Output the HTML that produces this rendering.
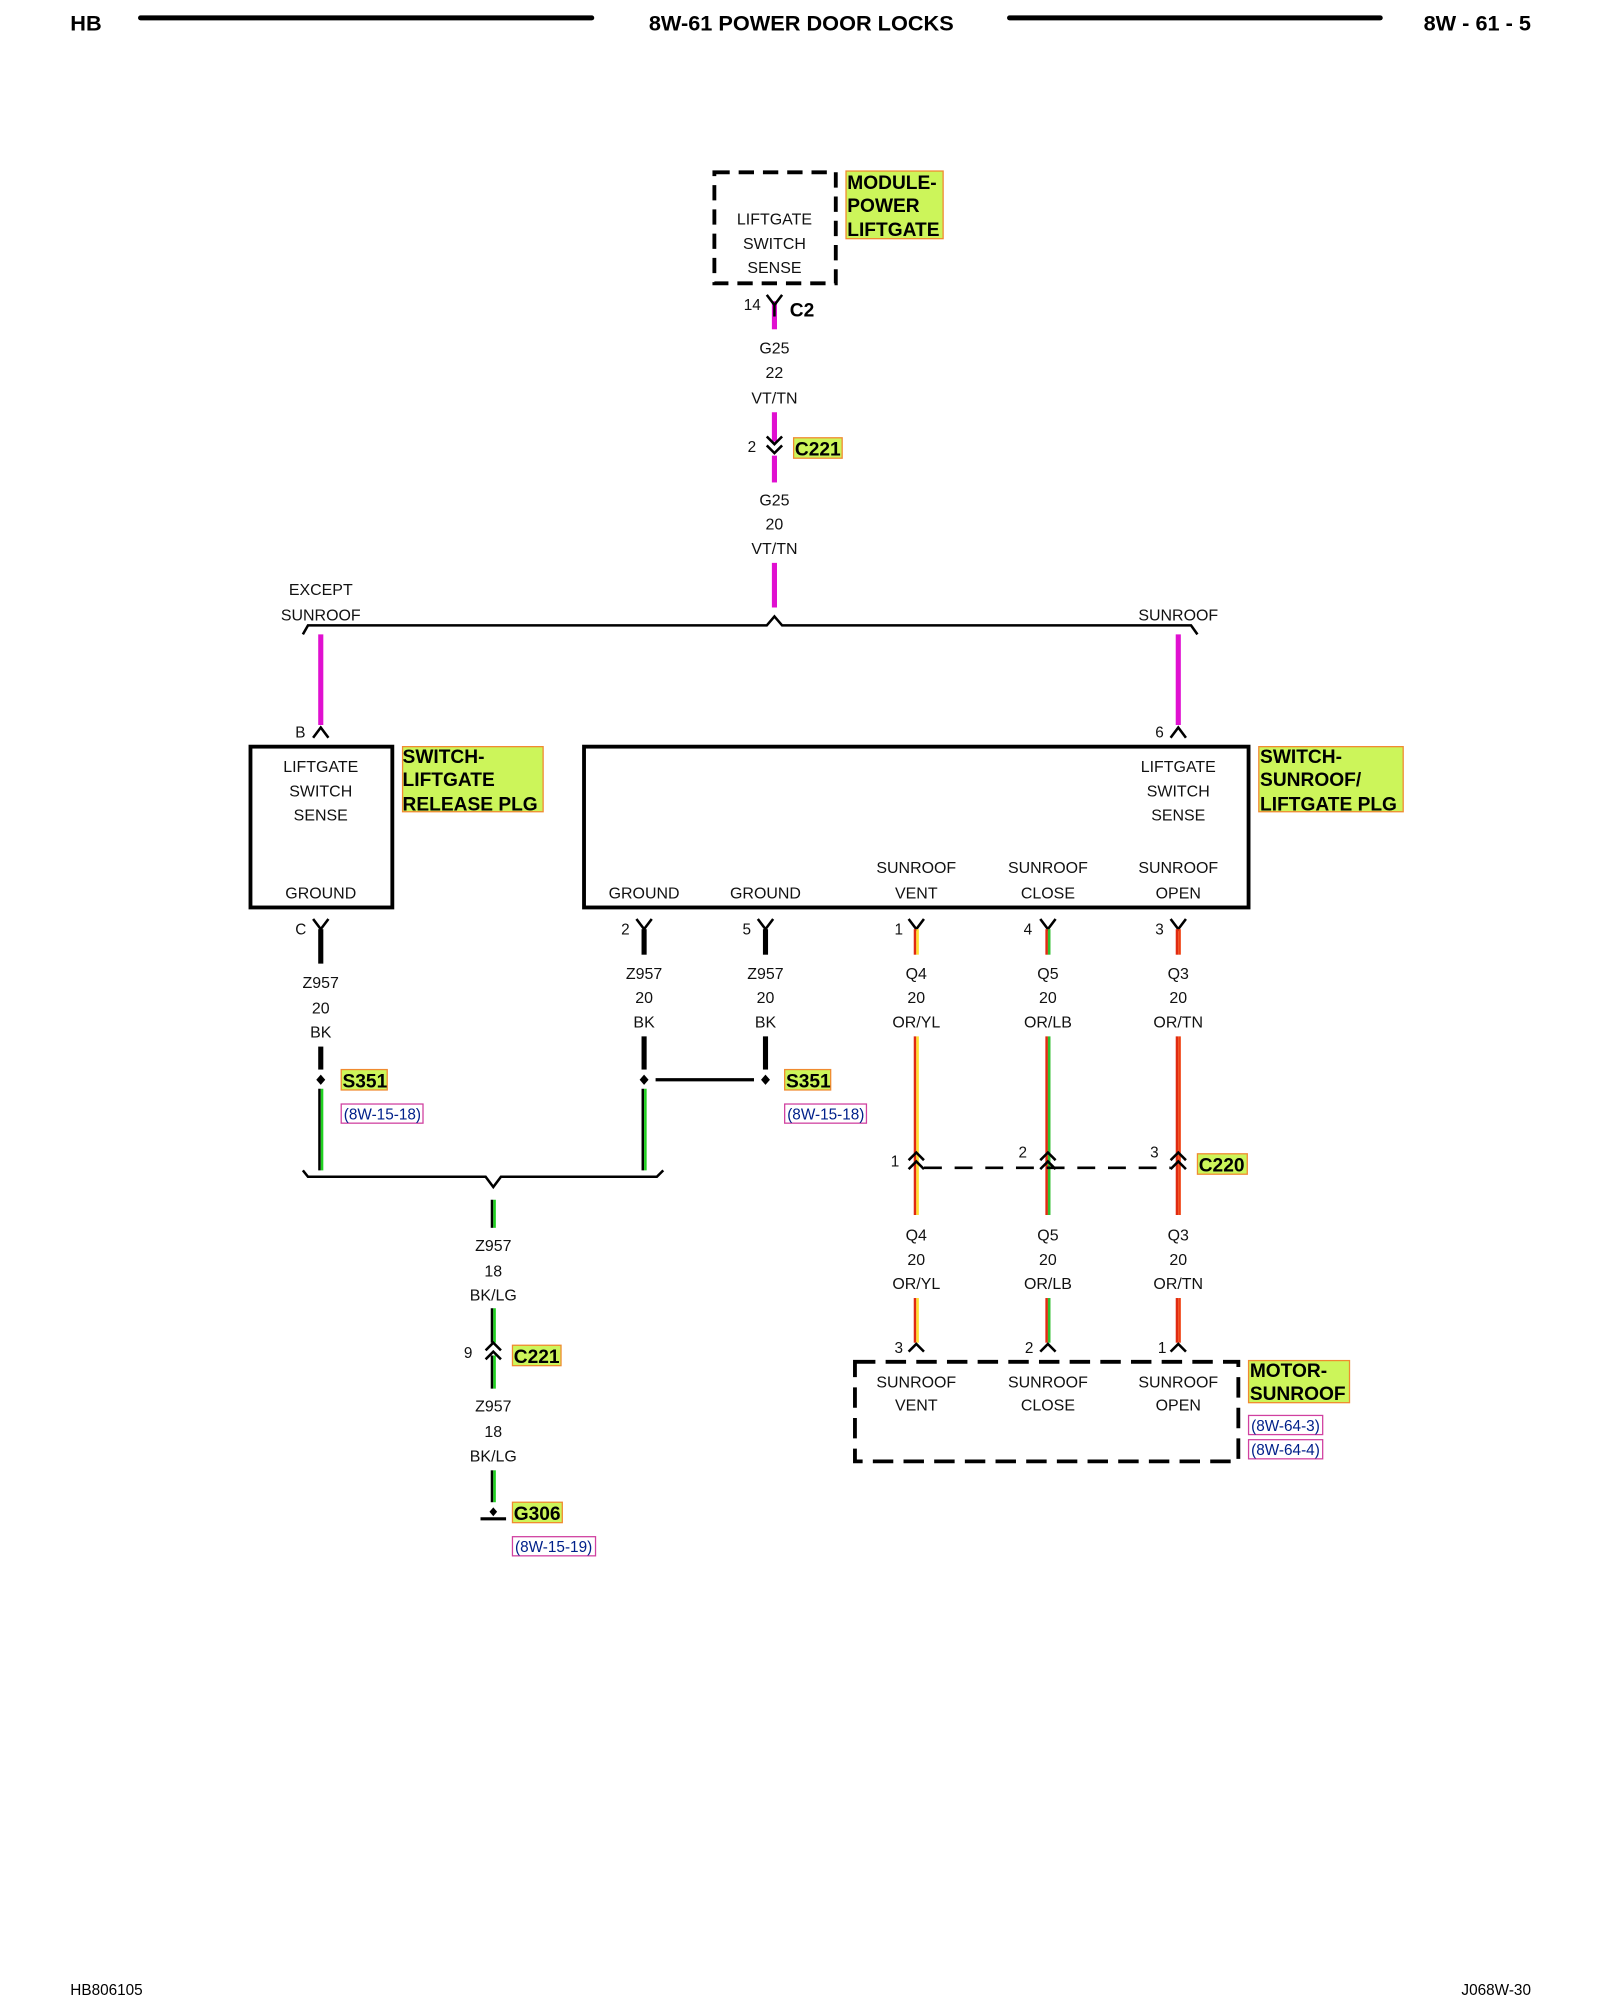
<!DOCTYPE html>
<html><head><meta charset="utf-8"><style>
html,body{margin:0;padding:0;background:#fff;}
svg{display:block}
text{font-family:"Liberation Sans",sans-serif;}
.t{font-size:12.5px;fill:#111;text-anchor:middle}
.n{font-size:12px;fill:#111}
.lb{font-size:15px;font-weight:bold;fill:#000}
.rf{font-size:12px;fill:#00208a}
</style></head><body>
<svg width="1600" height="2000" viewBox="0 0 1252 1567" preserveAspectRatio="none" xmlns="http://www.w3.org/2000/svg">
<rect width="1252" height="1567" fill="#fff"/>
<!-- header -->
<text x="55" y="24" style="font-size:17px;font-weight:bold">HB</text>
<line x1="110" y1="14" x2="463" y2="14" stroke="#000" stroke-width="4" stroke-linecap="round"/>
<text x="627" y="24" style="font-size:17px;font-weight:bold;text-anchor:middle">8W-61 POWER DOOR LOCKS</text>
<line x1="790" y1="14" x2="1080" y2="14" stroke="#000" stroke-width="4" stroke-linecap="round"/>
<text x="1198" y="24" style="font-size:17px;font-weight:bold;text-anchor:end">8W - 61 - 5</text>

<!-- module power liftgate -->
<rect x="559" y="135" width="95" height="87" fill="none" stroke="#000" stroke-width="3" stroke-dasharray="12,7"/>
<text class="t" x="606" y="176">LIFTGATE</text>
<text class="t" x="606" y="195">SWITCH</text>
<text class="t" x="606" y="214">SENSE</text>
<rect x="662" y="134" width="76" height="53" fill="#ccf55a" stroke="#f08a30" stroke-width="1"/>
<text class="lb" x="663" y="148">MODULE-</text>
<text class="lb" x="663" y="166">POWER</text>
<text class="lb" x="663" y="185">LIFTGATE</text>

<g stroke="#e010d0" stroke-width="4">
<line x1="606" y1="236" x2="606" y2="258"/>
<line x1="606" y1="323" x2="606" y2="346"/>
<line x1="606" y1="357" x2="606" y2="378"/>
<line x1="606" y1="441" x2="606" y2="476"/>
<line x1="251" y1="497" x2="251" y2="568"/>
<line x1="922" y1="497" x2="922" y2="568"/>
</g>
<!-- C2 -->
<polyline points="600,231 606,239 612,231" fill="none" stroke="#000" stroke-width="2"/>
<line x1="606" y1="239" x2="606" y2="248" stroke="#000" stroke-width="2"/>
<text class="n" x="582" y="243">14</text>
<text x="618" y="248" style="font-size:15px;font-weight:bold">C2</text>
<text class="t" x="606" y="277">G25</text>
<text class="t" x="606" y="296">22</text>
<text class="t" x="606" y="316">VT/TN</text>
<!-- C221 top -->
<polyline points="600,342 606,348 612,342" fill="none" stroke="#000" stroke-width="2"/>
<polyline points="600,349 606,355 612,349" fill="none" stroke="#000" stroke-width="2"/>
<text class="n" x="585" y="354">2</text>
<rect x="621" y="343" width="38" height="16" fill="#ccf55a" stroke="#f08a30"/>
<text class="lb" x="622" y="357">C221</text>
<text class="t" x="606" y="396">G25</text>
<text class="t" x="606" y="415">20</text>
<text class="t" x="606" y="434">VT/TN</text>
<!-- bus -->
<path d="M237,497 L241,490 L600,490 L606,483 L612,490 L932,490 L937,497" fill="none" stroke="#000" stroke-width="2"/>
<text class="t" x="251" y="466">EXCEPT</text>
<text class="t" x="251" y="486">SUNROOF</text>
<text class="t" x="922" y="486">SUNROOF</text>
<!-- arrowheads into boxes -->
<polyline points="245,578 251,570 257,578" fill="none" stroke="#000" stroke-width="2"/>
<text class="n" x="231" y="578">B</text>
<polyline points="916,578 922,570 928,578" fill="none" stroke="#000" stroke-width="2"/>
<text class="n" x="904" y="578">6</text>

<!-- left box -->
<rect x="196" y="585" width="111" height="126" fill="none" stroke="#000" stroke-width="3"/>
<text class="t" x="251" y="605">LIFTGATE</text>
<text class="t" x="251" y="624">SWITCH</text>
<text class="t" x="251" y="643">SENSE</text>
<text class="t" x="251" y="704">GROUND</text>
<rect x="315" y="585" width="110" height="51" fill="#ccf55a" stroke="#f08a30"/>
<text class="lb" x="315" y="598">SWITCH-</text>
<text class="lb" x="315" y="616">LIFTGATE</text>
<text class="lb" x="315" y="635">RELEASE PLG</text>

<!-- big box -->
<rect x="457" y="585" width="520" height="126" fill="none" stroke="#000" stroke-width="3"/>
<text class="t" x="922" y="605">LIFTGATE</text>
<text class="t" x="922" y="624">SWITCH</text>
<text class="t" x="922" y="643">SENSE</text>
<text class="t" x="504" y="704">GROUND</text>
<text class="t" x="599" y="704">GROUND</text>
<text class="t" x="717" y="684">SUNROOF</text><text class="t" x="717" y="704">VENT</text>
<text class="t" x="820" y="684">SUNROOF</text><text class="t" x="820" y="704">CLOSE</text>
<text class="t" x="922" y="684">SUNROOF</text><text class="t" x="922" y="704">OPEN</text>
<rect x="985" y="585" width="113" height="51" fill="#ccf55a" stroke="#f08a30"/>
<text class="lb" x="986" y="598">SWITCH-</text>
<text class="lb" x="986" y="616">SUNROOF/</text>
<text class="lb" x="986" y="635">LIFTGATE PLG</text>

<!-- Y connectors below boxes -->
<g fill="none" stroke="#000" stroke-width="2">
<polyline points="245,720 251,728 257,720"/>
<polyline points="498,720 504,728 510,720"/>
<polyline points="593,720 599,728 605,720"/>
<polyline points="711,720 717,728 723,720"/>
<polyline points="814,720 820,728 826,720"/>
<polyline points="916,720 922,728 928,720"/>
</g>
<g stroke="#000" stroke-width="4">
<line x1="251" y1="728" x2="251" y2="755"/>
<line x1="504" y1="728" x2="504" y2="748"/>
<line x1="599" y1="728" x2="599" y2="748"/>
</g>
<text class="n" x="231" y="732">C</text>
<text class="n" x="486" y="732">2</text>
<text class="n" x="581" y="732">5</text>
<text class="n" x="700" y="732">1</text>
<text class="n" x="801" y="732">4</text>
<text class="n" x="904" y="732">3</text>
<!-- colored wire stubs top -->
<g stroke-width="2">
<line x1="716" y1="728" x2="716" y2="748" stroke="#e02a10"/><line x1="718" y1="728" x2="718" y2="748" stroke="#ffe030"/>
<line x1="819" y1="728" x2="819" y2="748" stroke="#e02a10"/><line x1="821" y1="728" x2="821" y2="748" stroke="#30c030"/>
<line x1="921" y1="728" x2="921" y2="748" stroke="#e02a10"/><line x1="923" y1="728" x2="923" y2="748" stroke="#f04010"/>
</g>
<text class="t" x="251" y="774">Z957</text><text class="t" x="251" y="794">20</text><text class="t" x="251" y="813">BK</text>
<text class="t" x="504" y="767">Z957</text><text class="t" x="504" y="786">20</text><text class="t" x="504" y="805">BK</text>
<text class="t" x="599" y="767">Z957</text><text class="t" x="599" y="786">20</text><text class="t" x="599" y="805">BK</text>
<text class="t" x="717" y="767">Q4</text><text class="t" x="717" y="786">20</text><text class="t" x="717" y="805">OR/YL</text>
<text class="t" x="820" y="767">Q5</text><text class="t" x="820" y="786">20</text><text class="t" x="820" y="805">OR/LB</text>
<text class="t" x="922" y="767">Q3</text><text class="t" x="922" y="786">20</text><text class="t" x="922" y="805">OR/TN</text>

<!-- splice wires -->
<g stroke="#000" stroke-width="4">
<line x1="251" y1="820" x2="251" y2="838"/>
<line x1="504" y1="812" x2="504" y2="838"/>
<line x1="599" y1="812" x2="599" y2="838"/>
</g>
<line x1="513" y1="846" x2="590" y2="846" stroke="#000" stroke-width="2.5"/>
<g fill="#000">
<path d="M251,842 l3.5,4 l-3.5,4 l-3.5,-4z"/>
<path d="M504,842 l3.5,4 l-3.5,4 l-3.5,-4z"/>
<path d="M599,842 l3.5,4 l-3.5,4 l-3.5,-4z"/>
</g>
<rect x="267" y="838" width="36" height="16" fill="#ccf55a" stroke="#f08a30"/>
<text class="lb" x="268" y="852">S351</text>
<rect x="267" y="865" width="64" height="15" fill="#fff" stroke="#d040a0"/>
<text class="rf" x="269" y="877">(8W-15-18)</text>
<rect x="614" y="838" width="36" height="16" fill="#ccf55a" stroke="#f08a30"/>
<text class="lb" x="615" y="852">S351</text>
<rect x="614" y="865" width="64" height="15" fill="#fff" stroke="#d040a0"/>
<text class="rf" x="616" y="877">(8W-15-18)</text>
<!-- green wires -->
<g stroke-width="2">
<line x1="250" y1="853" x2="250" y2="917" stroke="#000"/><line x1="252" y1="853" x2="252" y2="917" stroke="#20d020"/>
<line x1="503" y1="853" x2="503" y2="917" stroke="#000"/><line x1="505" y1="853" x2="505" y2="917" stroke="#20d020"/>
<line x1="385" y1="940" x2="385" y2="962" stroke="#000"/><line x1="387" y1="940" x2="387" y2="962" stroke="#20d020"/>
<line x1="385" y1="1025" x2="385" y2="1052" stroke="#000"/><line x1="387" y1="1025" x2="387" y2="1052" stroke="#20d020"/>
<line x1="385" y1="1062" x2="385" y2="1088" stroke="#000"/><line x1="387" y1="1062" x2="387" y2="1088" stroke="#20d020"/>
<line x1="385" y1="1152" x2="385" y2="1177" stroke="#000"/><line x1="387" y1="1152" x2="387" y2="1177" stroke="#20d020"/>
</g>
<path d="M237,917 L241,922 L380,922 L386,930 L392,922 L514,922 L519,917" fill="none" stroke="#000" stroke-width="2"/>
<text class="t" x="386" y="980">Z957</text><text class="t" x="386" y="1000">18</text><text class="t" x="386" y="1019">BK/LG</text>
<polyline points="380,1058 386,1052 392,1058" fill="none" stroke="#000" stroke-width="2"/>
<polyline points="380,1065 386,1059 392,1065" fill="none" stroke="#000" stroke-width="2"/>
<text class="n" x="363" y="1064">9</text>
<rect x="401" y="1054" width="38" height="16" fill="#ccf55a" stroke="#f08a30"/>
<text class="lb" x="402" y="1068">C221</text>
<text class="t" x="386" y="1106">Z957</text><text class="t" x="386" y="1126">18</text><text class="t" x="386" y="1145">BK/LG</text>
<path d="M386,1181 l3,3.5 l-3,3.5 l-3,-3.5z" fill="#000"/>
<line x1="376" y1="1190" x2="396" y2="1190" stroke="#000" stroke-width="2.5"/>
<rect x="401" y="1177" width="39" height="16" fill="#ccf55a" stroke="#f08a30"/>
<text class="lb" x="402" y="1191">G306</text>
<rect x="401" y="1204" width="65" height="15" fill="#fff" stroke="#d040a0"/>
<text class="rf" x="403" y="1216">(8W-15-19)</text>

<!-- right colored wires -->
<g stroke-width="2">
<line x1="716" y1="812" x2="716" y2="952" stroke="#e02a10"/><line x1="718" y1="812" x2="718" y2="952" stroke="#ffe030"/>
<line x1="819" y1="812" x2="819" y2="952" stroke="#e02a10"/><line x1="821" y1="812" x2="821" y2="952" stroke="#30c030"/>
<line x1="921" y1="812" x2="921" y2="952" stroke="#e02a10"/><line x1="923" y1="812" x2="923" y2="952" stroke="#f04010"/>
<line x1="716" y1="1017" x2="716" y2="1052" stroke="#e02a10"/><line x1="718" y1="1017" x2="718" y2="1052" stroke="#ffe030"/>
<line x1="819" y1="1017" x2="819" y2="1052" stroke="#e02a10"/><line x1="821" y1="1017" x2="821" y2="1052" stroke="#30c030"/>
<line x1="921" y1="1017" x2="921" y2="1052" stroke="#e02a10"/><line x1="923" y1="1017" x2="923" y2="1052" stroke="#f04010"/>
</g>
<g fill="none" stroke="#000" stroke-width="2">
<polyline points="711,909 717,903 723,909"/><polyline points="711,916 717,910 723,916"/>
<polyline points="814,909 820,903 826,909"/><polyline points="814,916 820,910 826,916"/>
<polyline points="916,909 922,903 928,909"/><polyline points="916,916 922,910 928,916"/>
<polyline points="711,1059 717,1053 723,1059"/>
<polyline points="814,1059 820,1053 826,1059"/>
<polyline points="916,1059 922,1053 928,1059"/>
</g>
<line x1="723" y1="915" x2="916" y2="915" stroke="#000" stroke-width="2" stroke-dasharray="14,10"/>
<text class="n" x="697" y="914">1</text>
<text class="n" x="797" y="907">2</text>
<text class="n" x="900" y="907">3</text>
<rect x="937" y="904" width="39" height="16" fill="#ccf55a" stroke="#f08a30"/>
<text class="lb" x="938" y="918">C220</text>
<text class="t" x="717" y="972">Q4</text><text class="t" x="717" y="991">20</text><text class="t" x="717" y="1010">OR/YL</text>
<text class="t" x="820" y="972">Q5</text><text class="t" x="820" y="991">20</text><text class="t" x="820" y="1010">OR/LB</text>
<text class="t" x="922" y="972">Q3</text><text class="t" x="922" y="991">20</text><text class="t" x="922" y="1010">OR/TN</text>
<text class="n" x="700" y="1060">3</text>
<text class="n" x="802" y="1060">2</text>
<text class="n" x="906" y="1060">1</text>
<!-- motor dashed box -->
<rect x="669" y="1067" width="300" height="78" fill="none" stroke="#000" stroke-width="3" stroke-dasharray="16,8"/>
<text class="t" x="717" y="1087">SUNROOF</text><text class="t" x="717" y="1105">VENT</text>
<text class="t" x="820" y="1087">SUNROOF</text><text class="t" x="820" y="1105">CLOSE</text>
<text class="t" x="922" y="1087">SUNROOF</text><text class="t" x="922" y="1105">OPEN</text>
<rect x="977" y="1066" width="79" height="33" fill="#ccf55a" stroke="#f08a30"/>
<text class="lb" x="978" y="1079">MOTOR-</text>
<text class="lb" x="978" y="1097">SUNROOF</text>
<rect x="977" y="1109" width="58" height="15" fill="#fff" stroke="#d040a0"/>
<text class="rf" x="979" y="1121">(8W-64-3)</text>
<rect x="977" y="1128" width="58" height="15" fill="#fff" stroke="#d040a0"/>
<text class="rf" x="979" y="1140">(8W-64-4)</text>

<!-- footer -->
<text x="55" y="1563" style="font-size:12px">HB806105</text>
<text x="1198" y="1563" style="font-size:12px;text-anchor:end">J068W-30</text>
</svg>
</body></html>
